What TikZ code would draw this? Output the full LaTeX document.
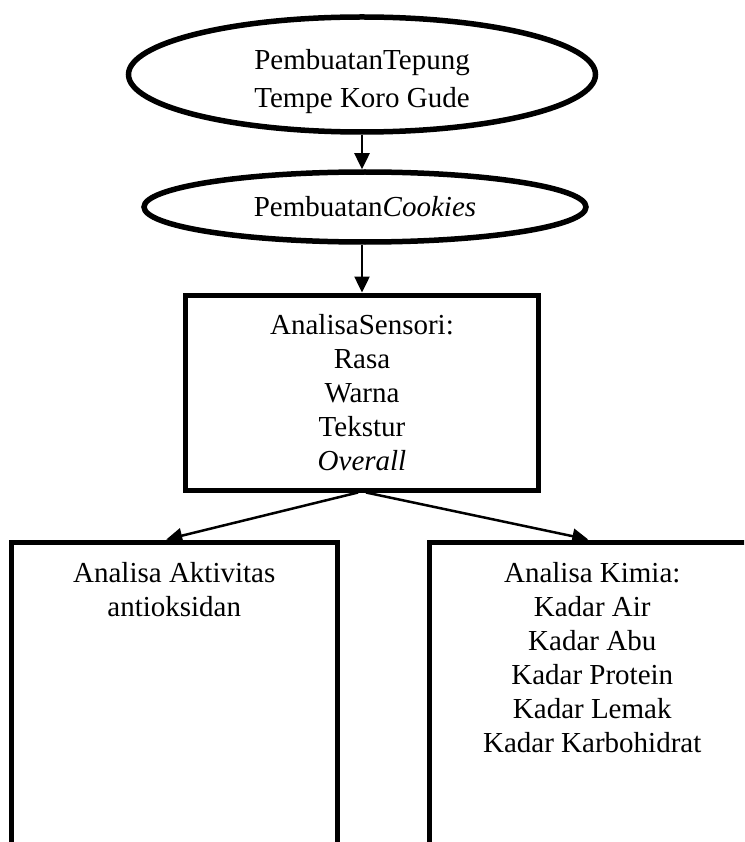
\documentclass[tikz,border=0pt]{standalone}
\usepackage{fontspec}
\setmainfont{Liberation Serif}
\usetikzlibrary{shapes.geometric,arrows.meta,positioning}

\begin{document}
\begin{tikzpicture}[x=1pt,y=-1pt,
        every node/.style={font=\fontsize{29}{34}\selectfont},
        oval/.style={draw, ellipse, line width=5.5pt, inner sep=0pt, align=center},
        kotak/.style={draw, rectangle, line width=5pt, inner sep=0pt, align=center},
        isi/.style={inner sep=0pt, align=center},
        panah/.style={line width=2.5pt, -{Triangle[length=16pt,width=15pt]}}]
        \useasboundingbox (0,0) rectangle (744,842);
        \clip (0,0) rectangle (744,842);

        \node[oval, minimum width=467pt, minimum height=115pt] (A) at (362,74.5) {\rule{0pt}{35pt}PembuatanTepung\\[4pt]Tempe Koro Gude};
        \node[oval, minimum width=442pt, minimum height=70pt] (B) at (365,207) {Pembuatan\textit{Cookies}};
        \node[kotak, minimum width=353.5pt, minimum height=195pt] (C) at (362,392.5) {AnalisaSensori:\\Rasa\\Warna\\Tekstur\\\textit{Overall}};

        \node[kotak, minimum width=325.5pt, minimum height=400pt] (D) at (174.25,742) {};
        \node[isi, below=23pt of D.north] (D1) {Analisa Aktivitas\\antioksidan};
        \node[kotak, minimum width=325.5pt, minimum height=400pt] (E) at (592.25,742) {};
        \node[isi, below=23pt of E.north] (E1) {Analisa Kimia:\\Kadar Air\\Kadar Abu\\Kadar Protein\\Kadar Lemak\\Kadar Karbohidrat};

        \draw[panah] (A.south) -- (A.south |- B.north);
        \draw[panah] (C.north |- B.south) -- (C.north);
        \draw[panah] ([xshift=-4pt]C.south) -- ([xshift=-8pt]D.north);
        \draw[panah] ([xshift=4pt]C.south) -- ([xshift=-4pt]E.north);
    \end{tikzpicture}
\end{document}
